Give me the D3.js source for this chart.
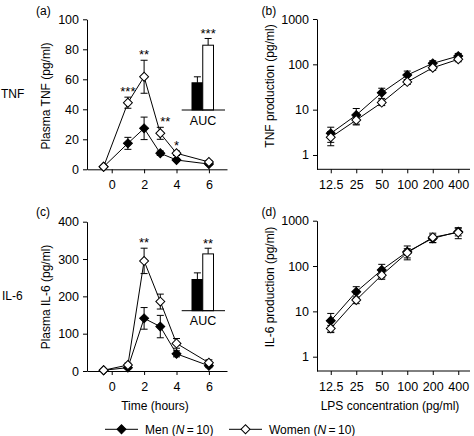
<!DOCTYPE html>
<html><head><meta charset="utf-8">
<script src="https://cdn.jsdelivr.net/npm/d3@7"></script>
<style>
body{margin:0;background:#fff;}
svg text{font-family:"Liberation Sans",Arial,Helvetica,sans-serif;fill:#000;}
</style></head>
<body><svg id="c" width="474" height="436"></svg>
<script>
// ---- data ----
const timeHours = [-0.5, 1, 2, 3, 4, 6];
const timeTicks = [0, 2, 4, 6];
const tnfMen = [1.7, 17.3, 27.3, 10.7, 6.2, 3.5];
const tnfMenErr = [0.5, 4, 7.5, 1.5, 1, 0.8];
const tnfWomen = [1.7, 44.4, 61.7, 24, 10.7, 4.9];
const tnfWomenErr = [0.5, 3.7, 11, 4, 1.5, 1];
const il6Men = [2, 9, 141, 119, 46, 14];
const il6MenErr = [1, 3, 29, 30, 8, 5];
const il6Women = [2, 16, 295, 186, 74, 22];
const il6WomenErr = [1, 5, 34, 20, 13, 8];
const tnfStarTimes = [1, 2, 3, 4];
const tnfStarLabels = ["***", "**", "**", "*"];
const il6StarTimes = [2];
const il6StarLabels = ["**"];
const aucGroups = ["Men", "Women"];
const tnfAuc = [34, 81];
const tnfAucErr = [7.5, 8.4];
const tnfAucStar = "***";
const il6Auc = [39, 71];
const il6AucErr = [8.3, 7.1];
const il6AucStar = "**";
const lpsConc = ["12.5", "25", "50", "100", "200", "400"];
const tnfProdMen = [3.0, 7.6, 23.7, 58, 105, 152];
const tnfProdMenErr = [1.1, 3, 6, 13, 15, 22];
const tnfProdWomen = [2.45, 5.9, 14.3, 41, 84, 129];
const tnfProdWomenErr = [0.85, 1.1, 2, 5, 10, 15];
const il6ProdMen = [6.2, 27, 82, 207, 407, 572];
const il6ProdMenErr = [2.8, 8, 27, 70, 80, 110];
const il6ProdWomen = [4.2, 17.8, 63, 196, 430, 551];
const il6ProdWomenErr = [0.7, 3, 12, 45, 100, 150];
const linTicksTnf = [0, 20, 40, 60, 80, 100];
const linTicksIl6 = [0, 100, 200, 300, 400];
const logTicks = [1, 10, 100, 1000];

const svg = d3.select("#c");
const FS = 12;
const TFS = 12.5;
const diamond = d3.symbol(d3.symbolSquare, 40);

function styleAxis(g, fs) {
  g.selectAll("path,line").attr("stroke", "#000").attr("stroke-width", 1);
  g.selectAll("text").attr("font-size", fs).attr("font-family", null).attr("fill", "#000");
}

function drawSeries(g, xs, ys, errs, x, y, fill, logMode) {
  const pts = xs.map((xv, i) => ({x: x(xv), v: ys[i], e: errs[i]}));
  pts.forEach(p => {
    const top = y(p.v + p.e);
    const lowV = logMode ? Math.max(p.v - p.e, 0.5) : p.v - p.e;
    const bot = y(lowV);
    g.append("line").attr("x1", p.x).attr("x2", p.x).attr("y1", top).attr("y2", bot)
      .attr("stroke", "#000").attr("stroke-width", 1);
    [top, bot].forEach(yy => g.append("line").attr("x1", p.x - 3.5).attr("x2", p.x + 3.5)
      .attr("y1", yy).attr("y2", yy).attr("stroke", "#000").attr("stroke-width", 1));
  });
  g.append("path").datum(pts)
    .attr("d", d3.line().x(p => p.x).y(p => y(p.v)))
    .attr("fill", "none").attr("stroke", "#000").attr("stroke-width", 1);
  g.selectAll(null).data(pts).join("path")
    .attr("d", diamond)
    .attr("transform", p => `translate(${p.x},${y(p.v)}) rotate(45)`)
    .attr("fill", fill).attr("stroke", "#000").attr("stroke-width", 1);
}

function timePanel(opt) {
  const g = svg.append("g");
  const x = d3.scaleLinear().domain([-1.525, 7.117]).range([87, 227]);
  const y = d3.scaleLinear().domain([0, opt.ymax]).range([opt.y0, opt.y1]);
  const ya = g.append("g").attr("transform", "translate(87,0)")
    .call(d3.axisLeft(y).tickValues(opt.ticks).tickSize(4).tickSizeOuter(0).tickPadding(4));
  styleAxis(ya, TFS);
  const xa = g.append("g").attr("transform", `translate(0,${opt.y0})`)
    .call(d3.axisBottom(x).tickValues(timeTicks).tickSize(4).tickSizeOuter(0).tickPadding(7));
  styleAxis(xa, TFS);
  drawSeries(g, timeHours, opt.men, opt.menErr, x, y, "#000", false);
  drawSeries(g, timeHours, opt.women, opt.womenErr, x, y, "#fff", false);
  opt.starTimes.forEach((t, i) => {
    const idx = timeHours.indexOf(t);
    const top = y(opt.women[idx] + opt.womenErr[idx]);
    g.append("text").attr("x", x(t) + (t === 3 ? 5 : 0)).attr("y", top - 1).attr("text-anchor", "middle")
      .attr("font-size", 13).text(opt.starLabels[i]);
  });
  const base = opt.aucBase;
  const yi = d3.scaleLinear().domain([0, 100]).range([base, base - 80]);
  const xb = d3.scaleBand().domain(aucGroups).range([192, 213.5]);
  aucGroups.forEach((grp, i) => {
    const v = opt.auc[i], e = opt.aucErr[i];
    const cx = xb(grp) + xb.bandwidth() / 2;
    g.append("line").attr("x1", cx).attr("x2", cx).attr("y1", yi(v)).attr("y2", yi(v + e))
      .attr("stroke", "#000");
    g.append("line").attr("x1", cx - 3.5).attr("x2", cx + 3.5).attr("y1", yi(v + e)).attr("y2", yi(v + e))
      .attr("stroke", "#000");
    g.append("rect").attr("x", xb(grp)).attr("width", xb.bandwidth())
      .attr("y", yi(v)).attr("height", base - yi(v))
      .attr("fill", i === 0 ? "#000" : "#fff").attr("stroke", "#000").attr("stroke-width", 1);
  });
  g.append("line").attr("x1", 181.7).attr("x2", 225).attr("y1", base).attr("y2", base).attr("stroke", "#000");
  const cxW = xb("Women") + xb.bandwidth() / 2;
  g.append("text").attr("x", cxW).attr("y", yi(opt.auc[1] + opt.aucErr[1]))
    .attr("text-anchor", "middle").attr("font-size", 13).text(opt.aucStar);
  g.append("text").attr("x", 203).attr("y", base + 14.5).attr("text-anchor", "middle")
    .attr("font-size", TFS).text("AUC");
  g.append("text").attr("transform", `translate(49.5,${opt.titleY}) rotate(-90)`)
    .attr("text-anchor", "middle").attr("font-size", FS).text(opt.title);
}

function lpsPanel(opt) {
  const g = svg.append("g");
  const x = d3.scalePoint().domain(lpsConc).range([318, 471]).padding(0.5);
  const y = d3.scaleLog().domain([0.4835, 1000]).range([opt.y0, opt.y1]);
  const ya = g.append("g").attr("transform", "translate(317,0)")
    .call(d3.axisLeft(y).tickValues(logTicks).tickFormat(d3.format("d")).tickSize(4).tickSizeOuter(0).tickPadding(4));
  styleAxis(ya, TFS);
  const xa = g.append("g").attr("transform", `translate(0,${opt.y0})`)
    .call(d3.axisBottom(x).tickSize(4).tickSizeOuter(0).tickPadding(7));
  xa.select(".domain").attr("d", `M317,0H470`);
  styleAxis(xa, TFS);
  drawSeries(g, lpsConc, opt.men, opt.menErr, x, y, "#000", true);
  drawSeries(g, lpsConc, opt.women, opt.womenErr, x, y, "#fff", true);
  g.append("text").attr("transform", `translate(274,${opt.titleY}) rotate(-90)`)
    .attr("text-anchor", "middle").attr("font-size", FS).text(opt.title);
}

timePanel({ymax: 100, y0: 169.3, y1: 19.3, ticks: linTicksTnf,
  men: tnfMen, menErr: tnfMenErr, women: tnfWomen, womenErr: tnfWomenErr,
  starTimes: tnfStarTimes, starLabels: tnfStarLabels,
  auc: tnfAuc, aucErr: tnfAucErr, aucStar: tnfAucStar, aucBase: 110,
  title: "Plasma TNF (pg/ml)", titleY: 96});
timePanel({ymax: 400, y0: 371, y1: 221.7, ticks: linTicksIl6,
  men: il6Men, menErr: il6MenErr, women: il6Women, womenErr: il6WomenErr,
  starTimes: il6StarTimes, starLabels: il6StarLabels,
  auc: il6Auc, aucErr: il6AucErr, aucStar: il6AucStar, aucBase: 310.7,
  title: "Plasma IL-6 (pg/ml)", titleY: 297});
lpsPanel({y0: 169.3, y1: 19, men: tnfProdMen, menErr: tnfProdMenErr,
  women: tnfProdWomen, womenErr: tnfProdWomenErr, title: "TNF production (pg/ml)", titleY: 86});
lpsPanel({y0: 371, y1: 220.7, men: il6ProdMen, menErr: il6ProdMenErr,
  women: il6ProdWomen, womenErr: il6ProdWomenErr, title: "IL-6 production (pg/ml)", titleY: 287});

[["(a)", 36, 15], ["(b)", 261.5, 15], ["(c)", 36, 216], ["(d)", 261.5, 216]].forEach(d =>
  svg.append("text").attr("x", d[1]).attr("y", d[2]).attr("font-size", FS).text(d[0]));
svg.append("text").attr("x", 1).attr("y", 97.5).attr("font-size", FS).text("TNF");
svg.append("text").attr("x", 2).attr("y", 299.5).attr("font-size", FS).text("IL-6");
svg.append("text").attr("x", 155).attr("y", 410).attr("text-anchor", "middle").attr("font-size", FS).text("Time (hours)");
svg.append("text").attr("x", 390).attr("y", 410).attr("text-anchor", "middle").attr("font-size", FS).text("LPS concentration (pg/ml)");

const legendItems = [{label: "Men", fill: "#000", x0: 105}, {label: "Women", fill: "#fff", x0: 229}];
const ly = 429.3;
legendItems.forEach(it => {
  svg.append("line").attr("x1", it.x0).attr("x2", it.x0 + 33).attr("y1", ly).attr("y2", ly).attr("stroke", "#000");
  svg.append("path").attr("d", diamond).attr("transform", `translate(${it.x0 + 16.5},${ly}) rotate(45)`)
    .attr("fill", it.fill).attr("stroke", "#000");
  const t = svg.append("text").attr("x", it.x0 + 40).attr("y", ly + 4.2).attr("font-size", FS);
  t.append("tspan").text(it.label + " (");
  t.append("tspan").attr("font-style", "italic").text("N");
  t.append("tspan").text("\u2009=\u200910)");
});
</script></body></html>
